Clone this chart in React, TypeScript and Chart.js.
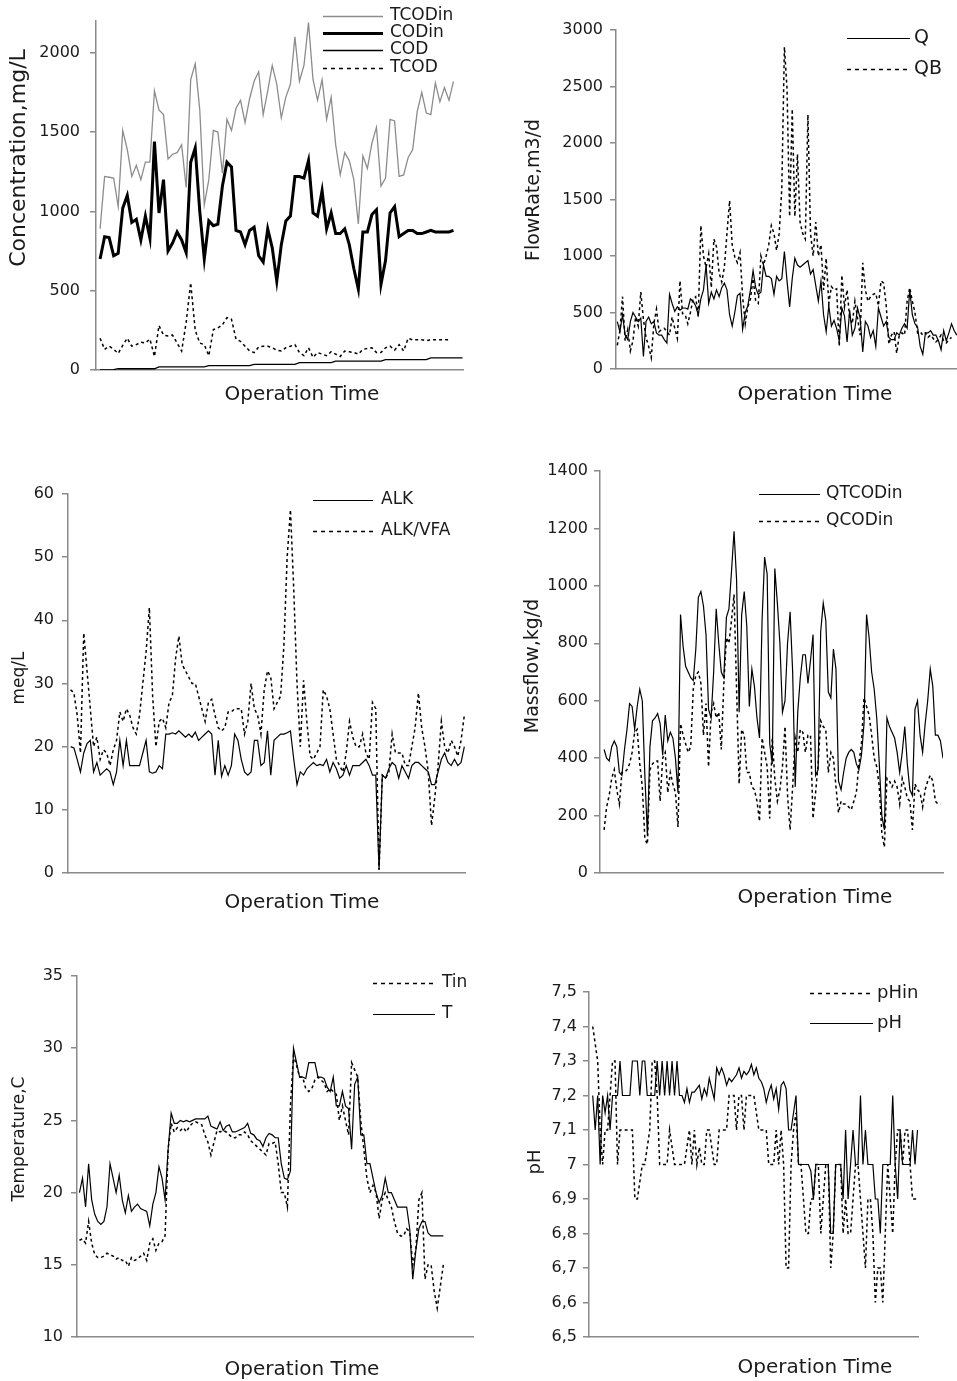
import { useEffect, useRef } from 'react';
import { Chart, registerables } from 'chart.js';

Chart.register(...registerables);

const FONT = '"DejaVu Sans", "Liberation Sans", sans-serif';
const AXIS = '#8a8a8a';
const TEXT = '#1a1a1a';
const X_TITLE = 'Operation Time';

// ---- Panel 1: concentrations (mg/L) ----
const concTicks = [0, 500, 1000, 1500, 2000];
const concTCODin = [890,1220,1215,1210,1030,1510,1390,1220,1290,1200, 1310,1310,1760,1640,1610,1330,1360,1370,1420,1150, 1830,1930,1640,1040,1200,1510,1500,1240,1580,1510, 1650,1700,1560,1710,1820,1880,1610,1760,1920,1800, 1590,1720,1800,2100,1820,1920,2190,1830,1700,1830, 1580,1720,1420,1230,1370,1320,1200,920,1350,1270, 1430,1530,1160,1210,1580,1570,1220,1230,1340,1390, 1630,1750,1620,1610,1810,1690,1780,1700,1820];
const concCODin = [700,840,835,720,735,1020,1100,930,950,820, 970,830,1440,990,1200,750,800,870,820,740, 1310,1400,1000,700,940,910,920,1160,1310,1280, 880,870,790,880,900,720,680,890,770,560, 790,940,970,1220,1220,1210,1320,990,970,1130, 890,990,860,860,890,790,640,510,870,870, 980,1010,540,690,990,1030,840,860,880,880, 860,860,870,880,870,870,870,870,880];
const concCOD = [0,0,0,3, 8,8,8,8,8,8,8,8,8, 20,20,20,20,20,20,20,20,20,20,20, 28,28,28,28,28,28,28,28,28,28, 36,36,36,36,36,36,36,36,36,36, 46,46,46,46,46,46,46,46, 56,56,56,56,56,56,56,56,56,56,56, 66,66,66,66,66,66,66,66,66,66, 77,77,77,77,77,77,77,77];
const concTCOD = [200,130,150,130,105,155,200,150,160,175, 170,195,85,280,220,215,220,170,120,300, 550,250,170,160,90,255,265,285,330,320, 195,180,150,120,110,145,150,150,140,125, 120,140,150,160,110,90,140,80,110,100, 90,115,100,85,120,115,110,100,130,135, 140,110,110,140,150,125,160,120,200,190, 190,190,185,190,190,190,190,190];

// ---- Panel 2: flow rates (m3/d) ----
const flowTicks = [0, 500, 1000, 1500, 2000, 2500, 3000];
const flowQ = [420,330,480,300,260,420,500,460,420,450, 110,420,460,400,420,320,300,300,260,230, 660,580,510,550,520,540,540,530,620,600, 560,480,620,700,920,580,680,620,700,640, 720,760,700,480,380,500,650,670,350,500, 560,700,870,720,660,680,920,820,820,800, 660,820,780,800,1040,780,550,800,980,920, 900,920,940,960,840,880,740,600,780,480, 330,560,380,430,360,250,540,470,240,520, 300,360,540,450,150,420,380,280,340,200, 540,460,380,420,280,260,260,320,300,360, 400,360,700,480,400,370,200,130,320,320, 340,300,300,250,170,340,250,320,400,340, 300];
const flowQB = [210,340,640,250,350,160,250,460,380,680, 440,280,200,100,400,530,330,350,360,330, 300,460,360,270,780,490,480,400,500,620, 640,460,1270,1000,900,1020,720,1150,1080,850, 770,900,1200,1490,1100,990,940,1030,640,400, 550,620,800,600,580,1000,920,1000,1100,1270, 1200,1050,1200,1600,2850,2480,1350,2300,1350,1900, 1300,1200,1150,2250,1200,1000,1300,1000,1100,700, 980,580,730,700,710,200,830,550,700,450, 400,600,450,300,940,700,600,640,660,670, 560,780,760,560,220,300,330,140,300,320, 300,600,720,600,500,320,330,300,320,280, 300,270,240,260,300,250,230,260,280];

// ---- Panel 3: alkalinity (meq/L) ----
const alkTicks = [0, 10, 20, 30, 40, 50, 60];
const alkALK = [20,19.8,18,16,19,20.5,21,16,17.5,15.5, 16,16.5,16,14,16,21,17,21,17,17, 17,17,19,21,16,15.8,16,17,16.5,22, 22,22.2,22,22.5,22,21.5,22,21.5,22.3,21, 21.5,22,22.5,22,15.5,21,15.3,17,15.5,17, 22,21,18,16,15.5,16,21,21,17,17.5, 22.5,15.5,21,21.5,22,22,22.2,22.5,18,14, 16,15.5,16.5,17,17.5,17,17.2,17,18,16, 17.5,16.5,15,15.5,17,15.5,17,17,17,17.5, 18,17,15.5,15.5,0.5,15.5,15,16.5,17.5,17, 15,17,16,15,17,17.5,17.5,17,16.5,16, 14,14,16,18,19,17.5,17,18,17,17.5, 20];
const alkVFA = [29,28.5,25,19,38,32,26,20,21.5,18, 19.5,19,17,19.5,21,25.5,24,26,25,23, 22,25,30,35,42,28,20,24,24.5,23, 27,28,34,37.5,33,32,31,30,30,28, 26,24,27,27.5,25,23,22.5,23,25.5,25.5, 26,26,26,22,24,30,26,25,22,29, 32,31,26,27,28,36,50,57.5,45,30, 20,30.5,24,18.5,18,19,20,29,28,26, 22,18,17,16,19,24,21.5,20,20,22, 19,18,27,26,0.5,15.5,15,16,22,19, 19,19,17,17,20,23,28.5,23,20,16, 7.5,12,17,24,20,19,21,20,18.5,21, 25];

// ---- Panel 4: mass flow (kg/d) ----
const massTicks = [0, 200, 400, 600, 800, 1000, 1200, 1400];
const massQTCODin = [430,400,390,440,460,440,350,340,430,500, 590,580,500,580,640,600,340,130,440,530, 540,555,520,410,550,460,490,470,400,280, 900,790,720,700,680,670,780,960,980,930, 830,570,540,700,920,800,700,680,890,920, 1050,1190,1020,560,900,980,860,580,710,650, 540,470,880,1100,1040,450,380,1060,940,800, 560,600,800,910,700,300,560,680,760,760, 660,740,830,340,360,840,940,880,630,610, 780,710,320,290,350,400,420,430,420,380, 360,410,520,900,820,700,640,540,380,200, 150,540,510,490,470,420,350,420,510,380, 290,270,570,600,480,420,520,600,710,650, 480,480,460,400];
const massQCODin = [150,230,270,330,360,290,240,350,350,360, 380,420,490,500,380,300,120,100,360,380, 390,390,250,400,420,280,350,310,280,160, 520,480,450,420,440,640,690,700,660,480, 590,370,560,590,540,560,430,660,820,800, 880,970,640,310,500,480,350,350,300,290, 250,180,470,420,370,190,470,330,250,290, 370,510,270,150,300,470,420,500,490,420, 480,480,190,280,380,530,510,500,350,420, 400,300,210,250,240,240,230,220,250,280, 380,450,610,580,550,480,400,370,300,140, 90,330,320,300,320,300,240,330,300,260, 250,150,310,290,280,230,290,320,340,320, 250,240,240];

// ---- Panel 5: temperature (C) ----
const tempTicks = [10, 15, 20, 25, 30, 35];
const tempTin = [16.7,16.8,16.5,18,16.5,15.7,15.5,15.5,15.6,15.8, 15.7,15.6,15.4,15.5,15.3,15.3,14.9,15.5,15.3,15.4, 15.6,15.8,15.3,16.5,16.8,16,16.5,16.6,17,23, 24.8,24.2,24.5,24.3,24.5,24.2,24.6,24.8,24.9,24.8, 24.7,24,23.5,22.6,23.5,24.3,24.2,24.3,24.2,24, 23.8,23.8,24,24,24.2,24,23.6,23.4,23.2,23, 22.8,22.6,23.4,23.4,23.5,22,20,20,19,26, 29.5,28.8,28,28,27.2,27,27.2,27.8,28,27.8, 27.6,27,27.2,27,26.8,25,26,25,24,29, 28.5,28,25,23,21,20,20.5,20,18.2,19.5, 20,19.5,19,18,17.2,17,17,17.5,17.3,15, 16,19.5,20,14,15,15,13.2,12,13.5,15];
const tempT = [20,21,19,22,19.5,18.5,18,17.8,18,19, 22,21,20,21.2,19.5,18.6,19.8,18.7,19,19.2, 18.9,18.8,18.7,17.7,19.2,20,21.8,21,19.5,23, 25.5,24.8,24.8,25,24.9,25,24.9,25,25.1,25.1, 25.1,25.1,25.3,24.6,24.5,24.4,24.9,24.3,24.6,24.7, 24.2,24.2,24.3,24.4,24.5,24.8,24.1,24,23.7,23.6, 23.2,23.8,24.1,24,23.8,23.8,22,21,20.9,21.5, 30,29,28,28,27.9,29,29,29,28,28, 27.9,27.3,27,28,26,26,27,26,25.8,23, 27.5,28,24,24,22,22,21,20,19.3,19.8, 21,20,20,19.5,19,19,19,19,17.5,14, 16,17.5,18,18,17.2,17,17,17,17,17];

// ---- Panel 6: pH ----
const phTicks = [6.5, 6.6, 6.7, 6.8, 6.9, 7.0, 7.1, 7.2, 7.3, 7.4, 7.5];
const phIn = [7.4,7.35,7.3,7.1,7.0,7.1,7.1,7.2,7.3,7.3, 7.0,7.1,7.1,7.1,7.1,7.1,7.1,6.9,6.9,6.95, 7.0,7.0,7.05,7.1,7.3,7.3,7.2,7.0,7.0,7.0, 7.0,7.1,7.05,7.0,7.0,7.0,7.0,7.0,7.05,7.1, 7.0,7.1,7.0,7.05,7.0,7.0,7.1,7.1,7.05,7.0, 7.0,7.1,7.1,7.1,7.1,7.2,7.2,7.2,7.1,7.2, 7.2,7.1,7.2,7.2,7.2,7.2,7.15,7.1,7.1,7.1, 7.1,7.0,7.0,7.0,7.1,7.0,7.1,7.0,6.7,6.7, 7.0,7.1,7.15,7.0,7.0,6.9,6.8,6.8,6.9,6.9, 7.0,7.0,6.8,6.9,7.0,7.0,6.7,6.8,7.0,7.0, 7.0,6.8,6.9,6.8,6.8,6.9,7.0,7.0,6.9,6.8, 6.7,6.9,6.9,6.8,6.6,6.7,6.7,6.6,6.8,7.0, 6.9,6.8,7.0,7.1,7.1,7.0,7.1,7.1,7.0,6.9, 6.9,6.9];
const phReactor = [7.2,7.1,7.2,7.0,7.2,7.15,7.2,7.1,7.2, 7.2,7.2,7.3,7.2,7.2,7.2,7.2,7.3,7.3,7.3,7.2,7.3,7.3,7.2,7.2,7.2,7.2,7.3,7.2,7.3,7.2,7.3,7.2,7.3,7.2,7.3,7.2, 7.2,7.18,7.22,7.18,7.21,7.21,7.22,7.23,7.19,7.22, 7.2,7.25,7.22,7.19,7.28,7.26,7.28,7.26,7.23,7.25, 7.24,7.25,7.26,7.28,7.25,7.27,7.26,7.27,7.29,7.26, 7.28,7.25,7.24,7.22,7.18,7.21,7.23,7.19,7.22,7.16, 7.23,7.24,7.22,7.1,7.1,7.15,7.2,7.0,7.0,7.0, 7.0,7.0,6.98,6.9,7.0,7.0,7.0,7.0,7.0,7.0, 6.8,6.8,7.0,7.0,7.0,6.9,7.1,6.9,7.0,7.1, 7.0,7.0,7.2,7.0,7.1,7.0,7.0,7.0,6.9,6.9, 6.8,7.0,7.0,7.0,7.0,7.2,7.0,6.9,7.1,7.0, 7.0,7.0,7.0,7.1,7.0,7.1];

type Series = { label: string; data: number[]; color: string; width: number; dash?: number[] };
type Panel = {
  box: [number, number, number, number];
  area: [number, number, number, number];
  xRange: [number, number];
  yMin: number; yMax: number; ticks: number[]; tickPad: number; comma?: boolean;
  yTitle: string; yTitlePos: [number, number]; yTitleSize: number;
  xTitlePos: [number, number];
  legend: { x0: number; x1: number; tx: number; rows: number[]; size: number };
  series: Series[];
};

const BLACK = '#000000';
const DOT = [3, 3];

const PANELS: Panel[] = [
  {
    box: [0, 0, 478, 410], area: [96, 21, 463, 370], xRange: [-0.9, 80.1],
    yMin: 0, yMax: 2200, ticks: concTicks, tickPad: 10,
    yTitle: 'Concentration,mg/L', yTitlePos: [19, 158], yTitleSize: 22,
    xTitlePos: [302, 400],
    legend: { x0: 323, x1: 383, tx: 390, rows: [16, 33, 50, 68], size: 17 },
    series: [
      { label: 'TCODin', data: concTCODin, color: '#8c8c8c', width: 1.3 },
      { label: 'CODin', data: concCODin, color: BLACK, width: 3 },
      { label: 'COD', data: concCOD, color: BLACK, width: 1.3 },
      { label: 'TCOD', data: concTCOD, color: BLACK, width: 1.5, dash: DOT },
    ],
  },
  {
    box: [478, 0, 479, 410], area: [616, 30, 957, 369], xRange: [-0.5, 130.1],
    yMin: 0, yMax: 3000, ticks: flowTicks, tickPad: 7,
    yTitle: 'FlowRate,m3/d', yTitlePos: [534, 190], yTitleSize: 19,
    xTitlePos: [815, 400],
    legend: { x0: 847, x1: 910, tx: 914, rows: [38, 69], size: 19 },
    series: [
      { label: 'Q', data: flowQ, color: BLACK, width: 1.2 },
      { label: 'QB', data: flowQB, color: BLACK, width: 1.5, dash: DOT },
    ],
  },
  {
    box: [0, 460, 478, 460], area: [68, 494, 465, 873], xRange: [-0.8, 120.2],
    yMin: 0, yMax: 60, ticks: alkTicks, tickPad: 8,
    yTitle: 'meq/L', yTitlePos: [20, 678], yTitleSize: 17,
    xTitlePos: [302, 908],
    legend: { x0: 313, x1: 373, tx: 381, rows: [500, 531], size: 17 },
    series: [
      { label: 'ALK', data: alkALK, color: BLACK, width: 1.2 },
      { label: 'ALK/VFA', data: alkVFA, color: BLACK, width: 1.5, dash: DOT },
    ],
  },
  {
    box: [478, 450, 479, 470], area: [600, 471, 943, 873], xRange: [-1.6, 133],
    yMin: 0, yMax: 1400, ticks: massTicks, tickPad: 6,
    yTitle: 'Massflow,kg/d', yTitlePos: [533, 666], yTitleSize: 19,
    xTitlePos: [815, 903],
    legend: { x0: 759, x1: 820, tx: 826, rows: [494, 521], size: 17 },
    series: [
      { label: 'QTCODin', data: massQTCODin, color: BLACK, width: 1.2 },
      { label: 'QCODin', data: massQCODin, color: BLACK, width: 1.5, dash: DOT },
    ],
  },
  {
    box: [0, 940, 478, 441], area: [77, 976, 473, 1337], xRange: [-0.8, 128.7],
    yMin: 10, yMax: 35, ticks: tempTicks, tickPad: 8,
    yTitle: 'Temperature,C', yTitlePos: [20, 1139], yTitleSize: 17,
    xTitlePos: [302, 1375],
    legend: { x0: 373, x1: 435, tx: 442, rows: [983, 1014], size: 17 },
    series: [
      { label: 'Tin', data: tempTin, color: BLACK, width: 1.5, dash: DOT },
      { label: 'T', data: tempT, color: BLACK, width: 1.2 },
    ],
  },
  {
    box: [478, 950, 479, 431], area: [589, 992, 918, 1337], xRange: [-1.5, 131.2],
    yMin: 6.5, yMax: 7.5, ticks: phTicks, tickPad: 6, comma: true,
    yTitle: 'pH', yTitlePos: [535, 1162], yTitleSize: 18,
    xTitlePos: [815, 1373],
    legend: { x0: 810, x1: 873, tx: 877, rows: [993, 1023], size: 18 },
    series: [
      { label: 'pHin', data: phIn, color: BLACK, width: 1.5, dash: DOT },
      { label: 'pH', data: phReactor, color: BLACK, width: 1.2 },
    ],
  },
];

function makeAnnotate(p: Panel) {
  return {
    id: 'annotate',
    afterDraw(chart: any) {
      const ctx: CanvasRenderingContext2D = chart.ctx;
      const [L, T] = p.box;
      ctx.save();
      ctx.fillStyle = TEXT;
      // x-axis title
      ctx.font = `20px ${FONT}`;
      ctx.textAlign = 'center';
      ctx.textBaseline = 'alphabetic';
      ctx.fillText(X_TITLE, p.xTitlePos[0] - L, p.xTitlePos[1] - T);
      // y-axis title
      ctx.save();
      ctx.translate(p.yTitlePos[0] - L, p.yTitlePos[1] - T);
      ctx.rotate(-Math.PI / 2);
      ctx.font = `${p.yTitleSize}px ${FONT}`;
      ctx.textAlign = 'center';
      ctx.textBaseline = 'middle';
      ctx.fillText(p.yTitle, 0, 0);
      ctx.restore();
      // legend
      chart.data.datasets.forEach((ds: any, i: number) => {
        const y = p.legend.rows[i] - T;
        ctx.beginPath();
        ctx.setLineDash(ds.borderDash && ds.borderDash.length ? [4, 4] : []);
        ctx.lineWidth = ds.borderWidth;
        ctx.strokeStyle = ds.borderColor;
        ctx.moveTo(p.legend.x0 - L, y + 0.5);
        ctx.lineTo(p.legend.x1 - L, y + 0.5);
        ctx.stroke();
        ctx.setLineDash([]);
        ctx.font = `${p.legend.size}px ${FONT}`;
        ctx.textAlign = 'left';
        ctx.textBaseline = 'middle';
        ctx.fillStyle = TEXT;
        ctx.fillText(ds.label, p.legend.tx - L, y);
      });
      ctx.restore();
    },
  };
}

function buildConfig(p: Panel): any {
  const [L, T, W, H] = p.box;
  const [x0, y0, x1, y1] = p.area;
  const n = Math.max(...p.series.map((s) => s.data.length));
  const labels = Array.from({ length: n }, (_, i) => i);
  return {
    type: 'line',
    data: {
      labels,
      datasets: p.series.map((s) => ({
        label: s.label,
        data: s.data,
        borderColor: s.color,
        borderWidth: s.width,
        borderDash: s.dash ?? [],
        pointRadius: 0,
        tension: 0,
        fill: false,
      })),
    },
    options: {
      animation: false,
      responsive: true,
      maintainAspectRatio: false,
      events: [],
      layout: { padding: { left: 0, top: y0 - T, right: L + W - x1, bottom: 0 } },
      plugins: { legend: { display: false }, tooltip: { enabled: false }, title: { display: false } },
      scales: {
        x: {
          type: 'linear',
          min: p.xRange[0],
          max: p.xRange[1],
          ticks: { display: false },
          grid: { display: false },
          border: { display: true, color: AXIS, width: 1.5 },
          afterFit: (s: any) => { s.height = T + H - y1; },
        },
        y: {
          type: 'linear',
          min: p.yMin,
          max: p.yMax,
          afterBuildTicks: (s: any) => { s.ticks = p.ticks.map((value) => ({ value })); },
          ticks: {
            padding: p.tickPad,
            color: TEXT,
            autoSkip: false,
            font: { family: FONT, size: 16 },
            callback: (v: number) => {
              const r = Math.round(v * 10) / 10;
              return p.comma ? String(r).replace('.', ',') : String(r);
            },
          },
          grid: { display: true, drawOnChartArea: false, drawTicks: true, tickLength: 6, color: AXIS, lineWidth: 1.5 },
          border: { display: true, color: AXIS, width: 1.5 },
          afterFit: (s: any) => { s.width = x0 - L; },
        },
      },
    },
    plugins: [makeAnnotate(p)],
  };
}

function PanelChart({ panel }: { panel: Panel }) {
  const ref = useRef<HTMLCanvasElement>(null);
  useEffect(() => {
    if (!ref.current) return;
    const chart = new Chart(ref.current, buildConfig(panel));
    return () => chart.destroy();
  }, [panel]);
  const [L, T, W, H] = panel.box;
  return (
    <div style={{ position: 'absolute', left: L, top: T, width: W, height: H }}>
      <canvas ref={ref} />
    </div>
  );
}

export default function App() {
  return (
    <div style={{ position: 'absolute', left: 0, top: 0, width: 957, height: 1381, overflow: 'hidden', background: '#ffffff' }}>
      {PANELS.map((p, i) => (
        <PanelChart key={i} panel={p} />
      ))}
    </div>
  );
}
